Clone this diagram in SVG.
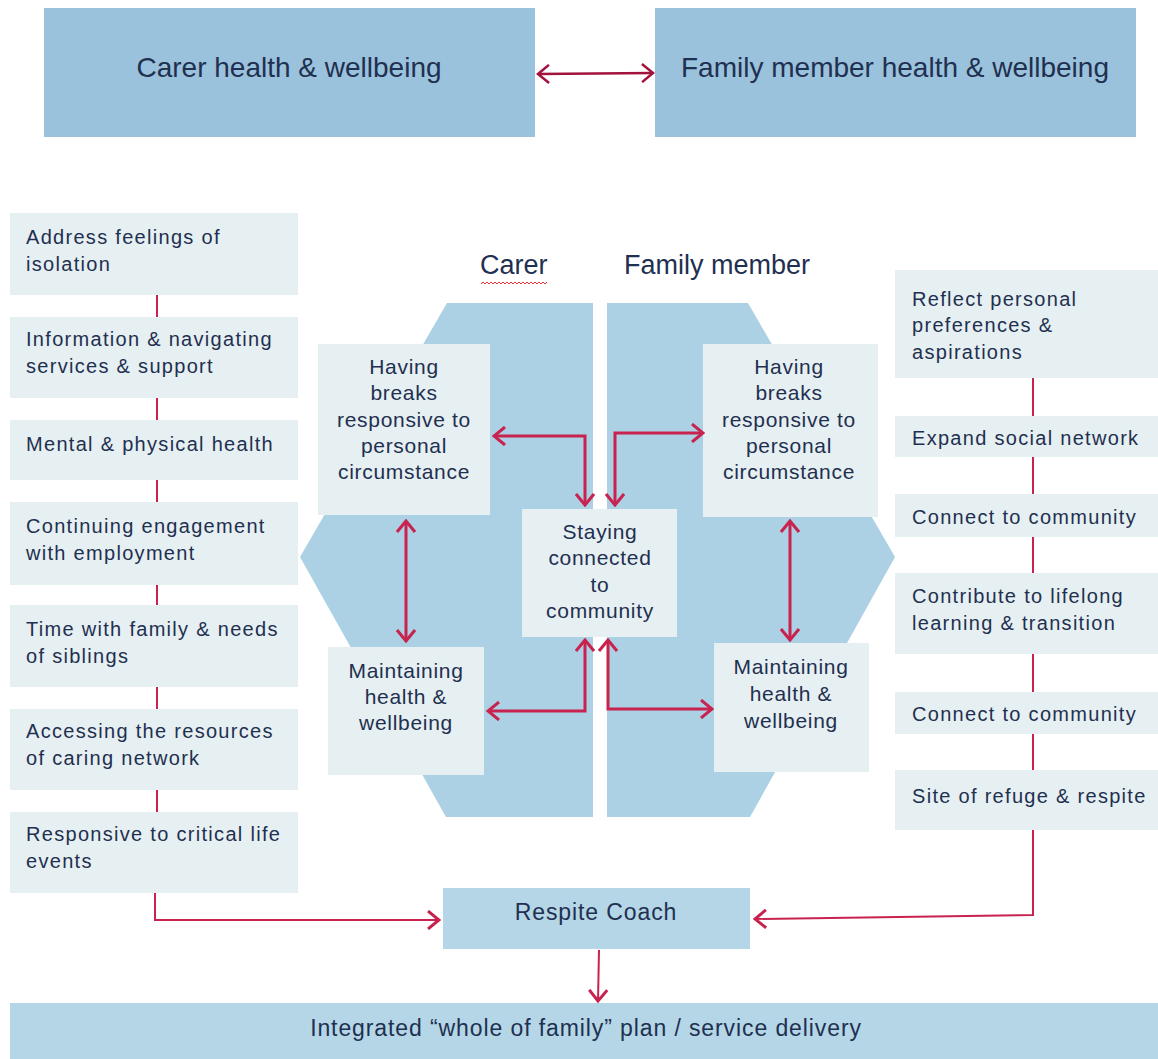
<svg xmlns="http://www.w3.org/2000/svg" width="1158" height="1059" viewBox="0 0 1158 1059">
<defs>
<style>
.top{fill:#9bc2dc}
.pale{fill:#e6eff1}
.mid{fill:#b4d6e7}
.hex{fill:#acd1e5}
.t{font-family:"Liberation Sans",Arial,sans-serif;fill:#1f3050}
.tl{font-size:20px;letter-spacing:1.3px}
.tc{font-size:21px;letter-spacing:0.7px;text-anchor:middle}
.big{font-size:28px;text-anchor:middle}
.ar{fill:none;stroke:#c8234e;stroke-width:3}
.ln{fill:none;stroke:#c8234e;stroke-width:2}
</style>
<marker id="h" viewBox="0 0 14 20" refX="12" refY="10" markerWidth="14" markerHeight="20" markerUnits="userSpaceOnUse" orient="auto-start-reverse">
<path d="M1,1 L12,10 L1,19" fill="none" stroke="#c8234e" stroke-width="3"/>
</marker>
<marker id="hd" viewBox="0 0 14 20" refX="12" refY="10" markerWidth="14" markerHeight="20" markerUnits="userSpaceOnUse" orient="auto-start-reverse">
<path d="M1,1 L12,10 L1,19" fill="none" stroke="#a3123d" stroke-width="2.5"/>
</marker>
</defs>
<rect width="1158" height="1059" fill="#ffffff"/>

<g id="shapes">
<polygon class="hex" points="447,303 593,303 593,817 446,817 300,557"/>
<polygon class="hex" points="607,303 748,303 895,557 750,817 607,817"/>
</g>

<g id="carer-hw"><rect class="top" x="44" y="8" width="491" height="129"/><text class="t big" x="289" y="77">Carer health &amp; wellbeing</text></g>
<g id="family-hw"><rect class="top" x="655" y="8" width="481" height="129"/><text class="t big" x="895" y="77">Family member health &amp; wellbeing</text></g>

<g id="labels">
<text class="t" x="480" y="274" font-size="27" fill="#1a2a3a">Carer</text>
<path d="M481,284 l2,-2 l2,2 l2,-2 l2,2 l2,-2 l2,2 l2,-2 l2,2 l2,-2 l2,2 l2,-2 l2,2 l2,-2 l2,2 l2,-2 l2,2 l2,-2 l2,2 l2,-2 l2,2 l2,-2 l2,2 l2,-2 l2,2 l2,-2 l2,2 l2,-2 l2,2 l2,-2 l2,2 l2,-2 l2,2 l2,-2" fill="none" stroke="#e03030" stroke-width="1"/>
<text class="t" x="624" y="274" font-size="27" fill="#1a2a3a">Family member</text>
</g>

<g id="left-column">
<g id="l1"><rect class="pale" x="10" y="213" width="288" height="82"/><text class="t tl" x="26" y="244">Address feelings of</text><text class="t tl" x="26" y="271">isolation</text></g>
<g id="l2"><rect class="pale" x="10" y="317" width="288" height="81"/><text class="t tl" x="26" y="346">Information &amp; navigating</text><text class="t tl" x="26" y="373">services &amp; support</text></g>
<g id="l3"><rect class="pale" x="10" y="420" width="288" height="60"/><text class="t tl" x="26" y="451">Mental &amp; physical health</text></g>
<g id="l4"><rect class="pale" x="10" y="502" width="288" height="83"/><text class="t tl" x="26" y="533">Continuing engagement</text><text class="t tl" x="26" y="560">with employment</text></g>
<g id="l5"><rect class="pale" x="10" y="605" width="288" height="82"/><text class="t tl" x="26" y="636">Time with family &amp; needs</text><text class="t tl" x="26" y="663">of siblings</text></g>
<g id="l6"><rect class="pale" x="10" y="709" width="288" height="81"/><text class="t tl" x="26" y="738">Accessing the resources</text><text class="t tl" x="26" y="765">of caring network</text></g>
<g id="l7"><rect class="pale" x="10" y="812" width="288" height="81"/><text class="t tl" x="26" y="841">Responsive to critical life</text><text class="t tl" x="26" y="868">events</text></g>
</g>

<g id="right-column">
<g id="r1"><rect class="pale" x="895" y="270" width="263" height="108"/><text class="t tl" x="912" y="306">Reflect personal</text><text class="t tl" x="912" y="332">preferences &amp;</text><text class="t tl" x="912" y="359">aspirations</text></g>
<g id="r2"><rect class="pale" x="895" y="416" width="263" height="41"/><text class="t tl" x="912" y="445">Expand social network</text></g>
<g id="r3"><rect class="pale" x="895" y="494" width="263" height="43"/><text class="t tl" x="912" y="524">Connect to community</text></g>
<g id="r4"><rect class="pale" x="895" y="573" width="263" height="81"/><text class="t tl" x="912" y="603">Contribute to lifelong</text><text class="t tl" x="912" y="630">learning &amp; transition</text></g>
<g id="r5"><rect class="pale" x="895" y="692" width="263" height="42"/><text class="t tl" x="912" y="721">Connect to community</text></g>
<g id="r6"><rect class="pale" x="895" y="770" width="263" height="60"/><text class="t tl" x="912" y="803">Site of refuge &amp; respite</text></g>
</g>

<g id="breaks-carer"><rect class="pale" x="318" y="344" width="172" height="171"/>
<text class="t tc" x="404" y="374">Having</text><text class="t tc" x="404" y="400">breaks</text><text class="t tc" x="404" y="427">responsive to</text><text class="t tc" x="404" y="453">personal</text><text class="t tc" x="404" y="479">circumstance</text></g>
<g id="breaks-family"><rect class="pale" x="703" y="344" width="175" height="173"/>
<text class="t tc" x="789" y="374">Having</text><text class="t tc" x="789" y="400">breaks</text><text class="t tc" x="789" y="427">responsive to</text><text class="t tc" x="789" y="453">personal</text><text class="t tc" x="789" y="479">circumstance</text></g>
<g id="staying"><rect class="pale" x="522" y="509" width="155" height="128"/>
<text class="t tc" x="600" y="539" fill="#111">Staying</text><text class="t tc" x="600" y="565" fill="#111">connected</text><text class="t tc" x="600" y="592" fill="#111">to</text><text class="t tc" x="600" y="618" fill="#111">community</text></g>
<g id="maint-carer"><rect class="pale" x="328" y="647" width="156" height="128"/>
<text class="t tc" x="406" y="678">Maintaining</text><text class="t tc" x="406" y="704">health &amp;</text><text class="t tc" x="406" y="730">wellbeing</text></g>
<g id="maint-family"><rect class="pale" x="714" y="643" width="155" height="129"/>
<text class="t tc" x="791" y="674">Maintaining</text><text class="t tc" x="791" y="701">health &amp;</text><text class="t tc" x="791" y="728">wellbeing</text></g>

<g id="respite"><rect class="mid" x="443" y="888" width="307" height="61"/><text class="t" x="596" y="920" font-size="23" letter-spacing="0.9" text-anchor="middle">Respite Coach</text></g>
<g id="integrated"><rect class="mid" x="10" y="1003" width="1148" height="56"/><text class="t" x="586" y="1036" font-size="23" letter-spacing="0.9" text-anchor="middle">Integrated “whole of family” plan / service delivery</text></g>

<g id="connectors">
<line x1="538" y1="74" x2="653" y2="73" stroke="#a3123d" stroke-width="2.5" marker-start="url(#hd)" marker-end="url(#hd)"/>
<line class="ln" x1="157" y1="295" x2="157" y2="317"/>
<line class="ln" x1="157" y1="398" x2="157" y2="420"/>
<line class="ln" x1="157" y1="480" x2="157" y2="502"/>
<line class="ln" x1="157" y1="585" x2="157" y2="605"/>
<line class="ln" x1="157" y1="687" x2="157" y2="709"/>
<line class="ln" x1="157" y1="790" x2="157" y2="812"/>
<polyline class="ln" points="155,893 155,920 439,920" marker-end="url(#h)"/>
<line class="ln" x1="1033" y1="378" x2="1033" y2="416"/>
<line class="ln" x1="1033" y1="457" x2="1033" y2="494"/>
<line class="ln" x1="1033" y1="537" x2="1033" y2="573"/>
<line class="ln" x1="1033" y1="654" x2="1033" y2="692"/>
<line class="ln" x1="1033" y1="734" x2="1033" y2="770"/>
<polyline class="ln" points="1033,830 1033,915 755,919" marker-end="url(#h)"/>
<line class="ln" x1="599" y1="950" x2="598" y2="1001" marker-end="url(#h)"/>
<line class="ar" x1="406" y1="521" x2="406" y2="641" marker-start="url(#h)" marker-end="url(#h)"/>
<line class="ar" x1="790" y1="521" x2="790" y2="640" marker-start="url(#h)" marker-end="url(#h)"/>
<polyline class="ar" points="494,436 585,436 585,505" marker-start="url(#h)" marker-end="url(#h)"/>
<polyline class="ar" points="703,433 615,433 615,505" marker-start="url(#h)" marker-end="url(#h)"/>
<polyline class="ar" points="585,640 585,711 488,711" marker-start="url(#h)" marker-end="url(#h)"/>
<polyline class="ar" points="608,640 608,709 712,709" marker-start="url(#h)" marker-end="url(#h)"/>
</g>
</svg>
